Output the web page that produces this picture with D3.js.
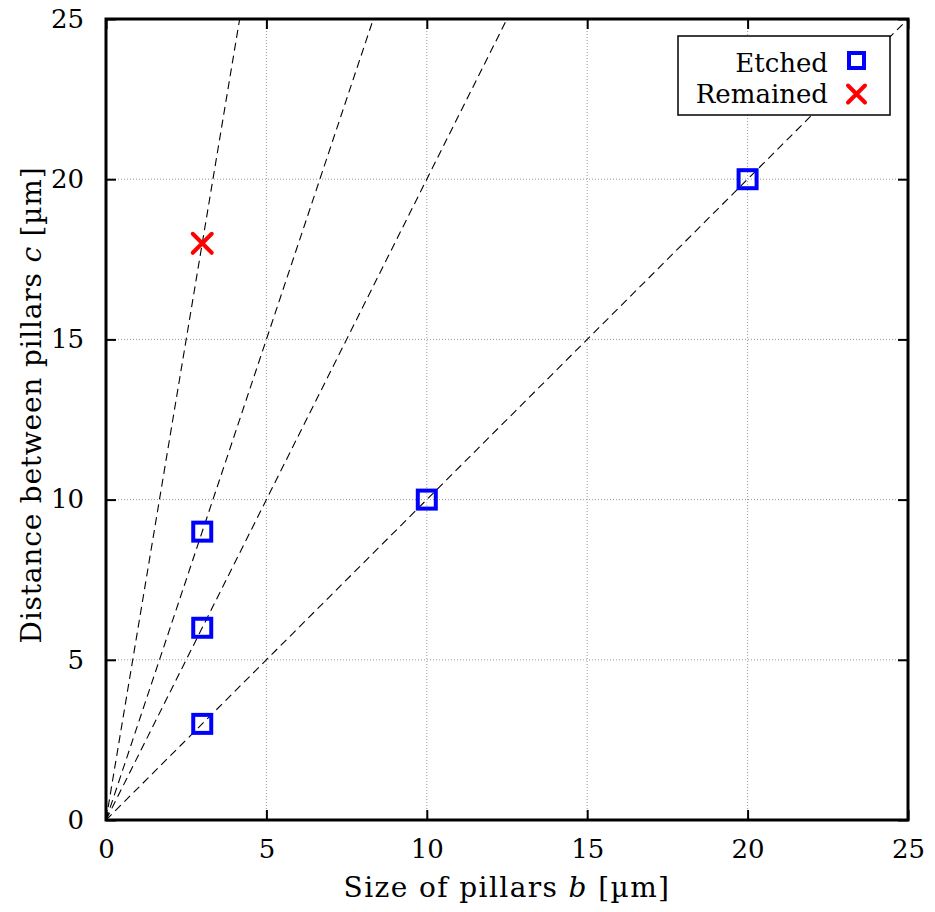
<!DOCTYPE html>
<html>
<head>
<meta charset="utf-8">
<script src="https://cdn.jsdelivr.net/npm/d3@7"></script>
<style>
body { margin: 0; background: #fff; }
text { font-family: "DejaVu Serif", serif; }
</style>
</head>
<body>
<div id="chart"></div>
<script>
// data
var ticks = [0, 5, 10, 15, 20, 25];
var slopes = [1, 2, 3, 6];               // guide lines c = k*b
var etchedB = [3, 3, 3, 10, 20];
var etchedC = [3, 6, 9, 10, 20];
var remainedB = [3];
var remainedC = [18];

var W = 935, H = 912;
var margins = {top: 19, right: 27, bottom: 92, left: 106};
var w = W - margins.left - margins.right;
var h = H - margins.top - margins.bottom;

var svg = d3.select("#chart").append("svg")
    .attr("width", W).attr("height", H);
var g = svg.append("g").attr("transform", "translate(" + margins.left + "," + margins.top + ")");

var x = d3.scaleLinear().domain([0, 25]).range([0, w]);
var y = d3.scaleLinear().domain([0, 25]).range([h, 0]);

svg.append("defs").append("clipPath").attr("id", "clip")
    .append("rect").attr("width", w).attr("height", h);

// grid
g.append("g").selectAll("line").data(ticks.slice(1, -1)).enter().append("line")
    .attr("x1", d => x(d)).attr("x2", d => x(d)).attr("y1", 0).attr("y2", h)
    .attr("stroke", "#999").attr("stroke-width", 1).attr("stroke-dasharray", "1,2");
g.append("g").selectAll("line").data(ticks.slice(1, -1)).enter().append("line")
    .attr("y1", d => y(d)).attr("y2", d => y(d)).attr("x1", 0).attr("x2", w)
    .attr("stroke", "#999").attr("stroke-width", 1).attr("stroke-dasharray", "1,2");

// guide lines
var guide = g.append("g").attr("clip-path", "url(#clip)");
slopes.forEach(function(k) {
    var bEnd = Math.min(25, 25 / k);
    guide.append("line")
        .attr("x1", x(0)).attr("y1", y(0))
        .attr("x2", x(bEnd)).attr("y2", y(bEnd * k))
        .attr("stroke", "#000").attr("stroke-width", 1.1).attr("stroke-dasharray", "8,5");
});

// axes with inward ticks on all sides
var fmt = d3.format("d");
g.append("g").attr("transform", "translate(0," + h + ")")
    .call(d3.axisBottom(x).tickValues(ticks).tickSize(-10).tickPadding(20).tickFormat(fmt));
g.append("g").call(d3.axisTop(x).tickValues(ticks).tickSize(-10).tickFormat(""));
g.append("g").call(d3.axisLeft(y).tickValues(ticks).tickSize(-10).tickPadding(22).tickFormat(fmt));
g.append("g").attr("transform", "translate(" + w + ",0)")
    .call(d3.axisRight(y).tickValues(ticks).tickSize(-10).tickFormat(""));
g.selectAll(".domain").remove();
g.selectAll(".tick line").attr("stroke", "#000").attr("stroke-width", 2);
g.selectAll(".tick text").attr("font-family", "DejaVu Serif, serif").attr("font-size", 26).attr("fill", "#000");

g.append("rect").attr("width", w).attr("height", h)
    .attr("fill", "none").attr("stroke", "#000").attr("stroke-width", 3);

// markers
var sq = 18;
g.append("g").selectAll("rect").data(etchedB).enter().append("rect")
    .attr("x", (d, i) => x(d) - sq / 2).attr("y", (d, i) => y(etchedC[i]) - sq / 2)
    .attr("width", sq).attr("height", sq)
    .attr("fill", "none").attr("stroke", "#0000ff").attr("stroke-width", 4);

function cross(sel, cx, cy, s) {
    sel.append("path")
        .attr("d", "M" + (cx - s) + "," + (cy - s) + "L" + (cx + s) + "," + (cy + s) +
                   "M" + (cx - s) + "," + (cy + s) + "L" + (cx + s) + "," + (cy - s))
        .attr("stroke", "#ff0000").attr("stroke-width", 4).attr("stroke-linecap", "round");
}
remainedB.forEach(function(b, i) { cross(g, x(b), y(remainedC[i]), 9.5); });

// legend
var lg = svg.append("g");
lg.append("rect").attr("x", 678).attr("y", 36).attr("width", 212).attr("height", 79)
    .attr("fill", "#fff").attr("stroke", "#000").attr("stroke-width", 1.5);
lg.append("text").attr("x", 828).attr("y", 72).attr("text-anchor", "end")
    .attr("font-size", 26).text("Etched");
lg.append("text").attr("x", 828).attr("y", 103).attr("text-anchor", "end")
    .attr("font-size", 26).text("Remained");
lg.append("rect").attr("x", 849).attr("y", 53).attr("width", 15).attr("height", 15)
    .attr("fill", "none").attr("stroke", "#0000ff").attr("stroke-width", 4);
cross(lg, 856.5, 94, 8.5);

// axis labels
svg.append("text").attr("x", margins.left + w / 2).attr("y", 897)
    .attr("text-anchor", "middle").attr("font-size", 28).attr("letter-spacing", 1.4)
    .html('Size of pillars <tspan font-style="italic">b</tspan> [µm]');
svg.append("text").attr("text-anchor", "middle").attr("font-size", 28).attr("letter-spacing", 0.8)
    .attr("transform", "translate(41,405)rotate(-90)")
    .html('Distance between pillars <tspan font-style="italic">c</tspan> [µm]');
</script>
</body>
</html>
